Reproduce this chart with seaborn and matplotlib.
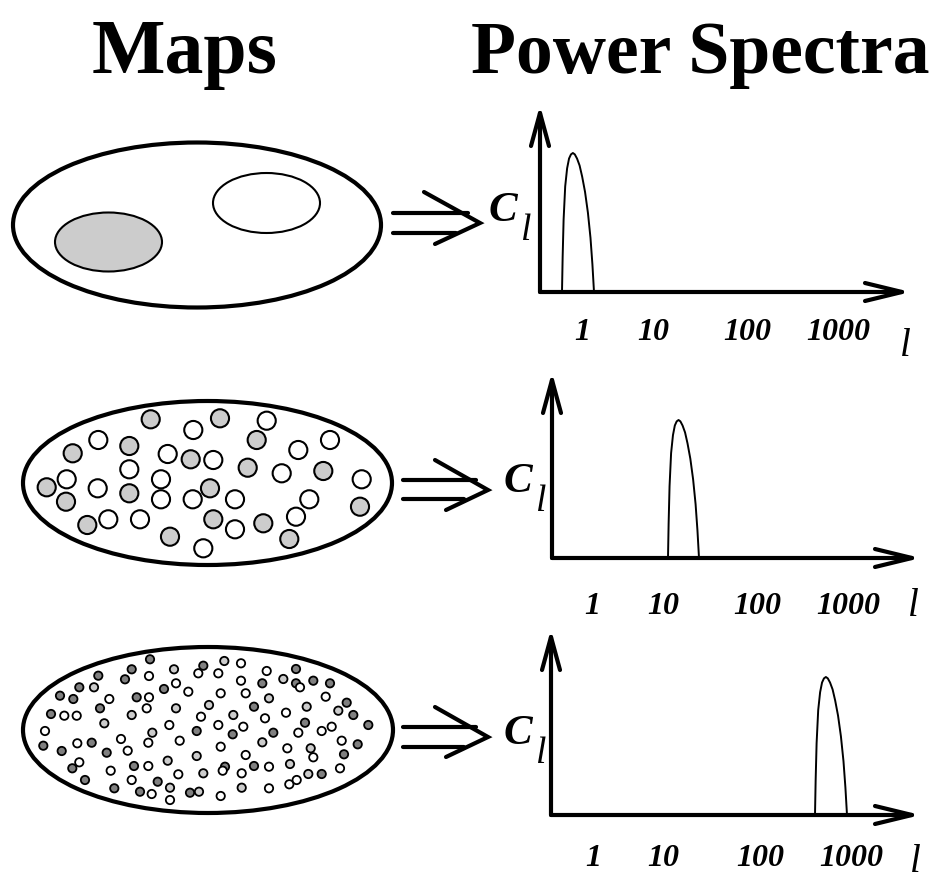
import numpy as np
import pandas as pd
import seaborn as sns
import matplotlib.pyplot as plt
from matplotlib.patches import Ellipse

sns.set_style("white")
plt.rcParams["text.color"] = "black"

# ---- data (pixel units, y down) ----
titles = ["Maps", "Power Spectra"]
tick_labels = ["1", "10", "100", "1000"]

# middle map: large spots
mid_grey_x = [150.7, 220, 256.7, 129.3, 72.7, 190.7, 247.7, 323.3, 46.7, 210, 129.3, 66, 213.3, 87.3, 263.3, 360, 170, 289.3]
mid_grey_y = [419.3, 418.3, 440, 446, 453.3, 459.3, 467.7, 471, 487.3, 488.3, 493.3, 501.7, 519.3, 525, 523.3, 506.7, 536.7, 539]
mid_white_x = [266.7, 193.3, 98.3, 330, 298.3, 167.7, 213.3, 129.3, 281.7, 66.7, 161, 361.7, 97.7, 161, 192.7, 235, 309.3, 108.3, 140, 296, 235, 203.3]
mid_white_y = [420.7, 430, 440, 440, 450, 454, 460, 469.3, 473.3, 479.3, 479.3, 479.3, 488.3, 499.3, 499.3, 499.3, 499.3, 519.3, 519.3, 516.7, 529.3, 548.3]

# bottom map: small spots
bot_dark_x = [150, 203.3, 131.7, 98.3, 125, 79.3, 164, 60, 73.3, 136.7, 100, 51, 196.7, 43.3, 91.7, 61.7, 106.7, 72.3, 134, 85, 157.7, 114.3, 140, 190,
              296, 262.3, 296, 313.3, 330, 254, 346.7, 353.3, 305, 368.3, 232.7, 273.3, 357.7, 344, 225, 254, 321.7]
bot_dark_y = [659.3, 665.7, 669.3, 675.7, 679.3, 687.3, 689, 695.7, 699, 697.3, 708.3, 714, 731, 745.7, 742.7, 751, 752.7, 768.3, 766, 780, 781.7, 788.3, 791.7, 792.7,
              669, 683.3, 683.3, 680.7, 683.3, 706.7, 702.7, 715, 722.7, 725, 734.3, 732.7, 744.3, 754.3, 766.7, 766, 774]
bot_light_x = [174, 94, 209, 176, 131.7, 104.3, 152.3, 167.7, 203.3, 170, 199, 196.7,
               224.3, 283.3, 269, 338.3, 233.3, 262.3, 310.7, 290, 308.3, 241.7, 306.7]
bot_light_y = [669.3, 687.3, 705, 708.3, 715, 723.3, 732.7, 760.7, 773.3, 787.7, 791.7, 756,
               661, 679, 698.3, 710.7, 715, 742.3, 748.3, 764, 774, 787.7, 706.7]
bot_white_x = [198.3, 149, 176, 188.3, 109.3, 149, 146.7, 64.3, 76.7, 201, 169.3, 45, 121, 179.7, 77.3, 148.3, 127.7, 79.3, 148.3, 110.7, 178.3, 131.7, 151.7, 170,
               241, 218.3, 266.7, 241, 300, 220.7, 245.7, 325.7, 286, 265, 218.3, 243.3, 331.7, 321.7, 298.3, 341.7, 220.7, 287.3, 313.3, 245.7, 222.7, 269, 340,
               241.7, 269, 289.3, 296.7, 220.7]
bot_white_y = [673.3, 676, 683.3, 691.7, 699, 697.3, 708.3, 715.7, 715.7, 716.7, 725, 731, 739, 740.7, 743.3, 742.7, 750.7, 762.3, 766, 770.7, 774.3, 780, 794, 800,
               663.3, 673.3, 671, 680.7, 687.3, 693.3, 693.3, 696.7, 712.7, 718.3, 725, 726.7, 726.7, 731, 732.7, 740.7, 746.7, 748.3, 757.3, 755, 770.7, 766.7, 768.3,
               773.3, 788.3, 784.3, 780, 796]

# peak profile (fraction of width, fraction of height)
peak_u = [0, 0.02, 0.05, 0.10, 0.16, 0.22, 0.28, 0.34, 0.40, 0.47, 0.55, 0.63, 0.72, 0.81, 0.89, 0.95, 1.0]
peak_h = [0, 0.25, 0.52, 0.76, 0.89, 0.96, 0.99, 1.0, 0.99, 0.96, 0.91, 0.83, 0.72, 0.57, 0.39, 0.2, 0]
# left foot, right foot, apex height of each spectrum peak
peak_left = [562, 668, 815]
peak_right = [594, 699, 847]
peak_top = [153, 420, 677]

# ---- layout ----
W, H = 937, 881
fig = plt.figure(figsize=(W / 100, H / 100), dpi=100)
ax = fig.add_axes([0, 0, 1, 1])

LIGHT = "#cccccc"
DARK = "#808080"

# map outlines
ellipses = [(197, 225, 368, 165), (207.5, 483, 369, 164), (208, 730, 370, 166)]
for cx, cy, w, h in ellipses:
    ax.add_patch(Ellipse((cx, cy), w, h, fc="white", ec="black", lw=3, zorder=1))
ax.add_patch(Ellipse((108.5, 242), 107, 59, fc=LIGHT, ec="black", lw=1.5, zorder=2))
ax.add_patch(Ellipse((266.5, 203), 107, 60, fc="white", ec="black", lw=1.5, zorder=2))

mid = pd.DataFrame({
    "x": mid_grey_x + mid_white_x,
    "y": mid_grey_y + mid_white_y,
    "shade": ["grey"] * len(mid_grey_x) + ["white"] * len(mid_white_x),
})
sns.scatterplot(data=mid, x="x", y="y", hue="shade", palette={"grey": LIGHT, "white": "white"},
                s=170, edgecolor="black", linewidth=1.5, legend=False, ax=ax, zorder=3)

bot = pd.DataFrame({
    "x": bot_dark_x + bot_light_x + bot_white_x,
    "y": bot_dark_y + bot_light_y + bot_white_y,
    "shade": ["dark"] * len(bot_dark_x) + ["light"] * len(bot_light_x) + ["white"] * len(bot_white_x),
})
sns.scatterplot(data=bot, x="x", y="y", hue="shade", palette={"dark": DARK, "light": LIGHT, "white": "white"},
                s=36, edgecolor="black", linewidth=1.3, legend=False, ax=ax, zorder=3)

# double arrows between map and spectrum
dbl = [(393, 213, 233, 480, 223, 424, 192, 435, 244),
       (403, 480, 499, 488, 490, 435, 460, 446, 510),
       (403, 727, 747, 488, 737, 435, 707, 446, 757)]
kw = dict(color="black", lw=3, solid_capstyle="round", zorder=4)
for x0, y1, y2, tx, ty, bx1, by1, bx2, by2 in dbl:
    ax.plot([x0, tx - 12], [y1, y1], **kw)
    ax.plot([x0, tx - 24], [y2, y2], **kw)
    ax.plot([bx1, tx, bx2], [by1, ty, by2], solid_joinstyle="miter", **kw)

# spectra axes: origin x, origin y, top tip, right tip
spec = [(540, 292, 113, 902), (552, 558, 380, 912), (551, 815, 637, 912)]
tick_x = [[582, 653, 747, 838], [592, 663, 757, 848], [593, 663, 760, 851]]
tick_y = [332, 606, 859]
l_pos = [(905, 347), (913, 606), (915, 862)]
c_pos = [(503, 211), (518, 482), (518, 734)]

for i, (ox, oy, ty, rx) in enumerate(spec):
    ax.plot([ox, ox], [oy, ty], **kw)
    ax.plot([ox, rx], [oy, oy], **kw)
    ax.plot([ox - 9, ox, ox + 9], [ty + 33, ty, ty + 33], **kw)
    ax.plot([rx - 37, rx, rx - 37], [oy - 9, oy, oy + 9], **kw)

    xs = [peak_left[i] + u * (peak_right[i] - peak_left[i]) for u in peak_u]
    ys = [oy - h * (oy - peak_top[i]) for h in peak_h]
    sns.lineplot(x=xs, y=ys, sort=False, color="black", lw=1.4, ax=ax, zorder=4)

    for lab, tx in zip(tick_labels, tick_x[i]):
        ax.text(tx, tick_y[i], lab, ha="center", va="center", fontsize=23,
                family="Liberation Serif", weight="bold", style="italic")
    ax.text(*l_pos[i], "l", ha="center", va="center", fontsize=28,
            family="Liberation Serif", style="italic")
    cx, cy = c_pos[i]
    ax.text(cx, cy, "C", ha="center", va="center", fontsize=31,
            family="Liberation Serif", weight="bold", style="italic")
    ax.text(cx + 23, cy + 20, "l", ha="center", va="center", fontsize=27,
            family="Liberation Serif", style="italic")

ax.set_xlim(0, W)
ax.set_ylim(H, 0)
ax.set_xlabel("")
ax.set_ylabel("")
ax.axis("off")

ax.text(185, 73, titles[0], ha="center", va="baseline", fontsize=56,
        family="Liberation Serif", weight="bold")
ax.text(700, 73, titles[1], ha="center", va="baseline", fontsize=53,
        family="Liberation Serif", weight="bold")

fig.savefig("out.png", dpi=100)
